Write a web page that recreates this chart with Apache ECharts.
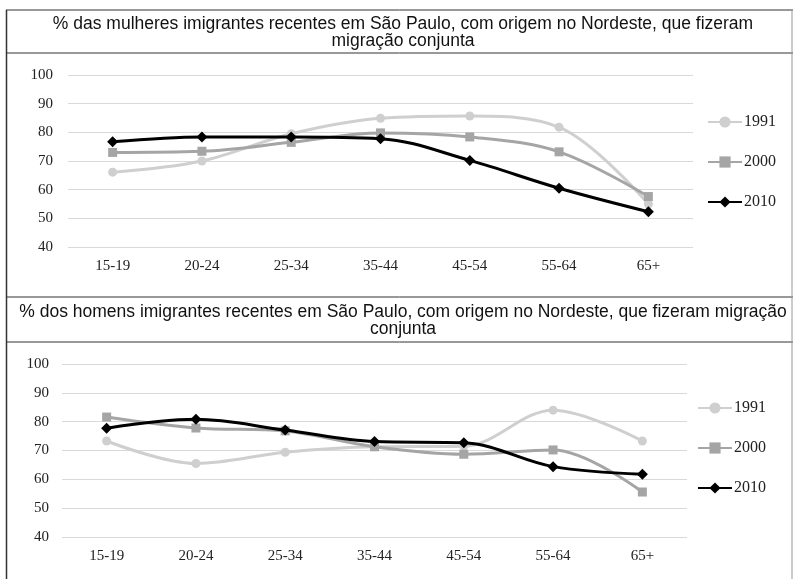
<!DOCTYPE html>
<html>
<head>
<meta charset="utf-8">
<script src="https://cdn.jsdelivr.net/npm/echarts@6/dist/echarts.min.js"></script>
<style>
    html, body { margin: 0; padding: 0; background: #fff; }
    #chart { width: 793px; height: 579px; }
</style>
</head>
<body>
<div id="chart"></div>
<script>
    // faixas etárias
    const categories = ['15-19', '20-24', '25-34', '35-44', '45-54', '55-64', '65+'];
    const seriesNames = ['1991', '2000', '2010'];

    // mulheres
    const women1991 = [66.1, 70.0, 79.5, 84.9, 85.7, 81.8, 55.0];
    const women2000 = [73.0, 73.4, 76.5, 79.8, 78.4, 73.2, 57.6];
    const women2010 = [76.7, 78.4, 78.4, 77.8, 70.2, 60.5, 52.3];

    // homens
    const men1991 = [73.3, 65.5, 69.4, 71.3, 71.5, 84.0, 73.3];
    const men2000 = [81.6, 77.8, 76.8, 71.3, 68.7, 70.2, 55.6];
    const men2010 = [77.7, 80.8, 77.1, 73.1, 72.7, 64.4, 61.8];

    const titleWomen = '% das mulheres imigrantes recentes em São Paulo, com origem no Nordeste, que fizeram\nmigração conjunta';
    const titleMen = '% dos homens imigrantes recentes em São Paulo, com origem no Nordeste, que fizeram migração\nconjunta';

    const colors = ['#cfcfcf', '#a5a5a5', '#000000'];
    const symbols = ['circle', 'rect', 'diamond'];
    const symbolSizes = [9, 9, 11];
    const serif = '"Liberation Serif", "Times New Roman", serif';
    const titleFont = '17.5px "Liberation Sans", Arial, sans-serif';

    const chart = echarts.init(document.getElementById('chart'));

    function makeSeries(idx, values) {
        let list = [];
        values.forEach((data, i) => {
            list.push({
                name: seriesNames[i],
                type: 'line',
                xAxisIndex: idx,
                yAxisIndex: idx,
                data: data,
                smooth: 0.35,
                symbol: symbols[i],
                symbolSize: symbolSizes[i],
                showAllSymbol: true,
                z: 2 + i,
                itemStyle: { color: colors[i] },
                lineStyle: { color: colors[i], width: 3 }
            });
        });
        return list;
    }

    function xAxisOf(idx) {
        return {
            type: 'category',
            gridIndex: idx,
            data: categories,
            boundaryGap: true,
            axisLine: { show: false },
            axisTick: { show: false },
            axisLabel: { color: '#222', fontFamily: serif, fontSize: 15, margin: 12 }
        };
    }

    function yAxisOf(idx, margin) {
        return {
            type: 'value',
            gridIndex: idx,
            min: 40,
            max: 100,
            interval: 10,
            axisLine: { show: false },
            axisTick: { show: false },
            splitLine: { lineStyle: { color: '#d9d9d9', width: 1 } },
            axisLabel: { color: '#222', fontFamily: serif, fontSize: 15, margin: margin }
        };
    }

    function legendOf(left, top) {
        return {
            data: seriesNames,
            orient: 'vertical',
            left: left,
            top: top,
            padding: 0,
            itemWidth: 34,
            itemHeight: 14,
            itemGap: 24,
            textStyle: { color: '#222', fontFamily: serif, fontSize: 16, padding: [0, 0, 0, -3] }
        };
    }

    let option = {
        animation: false,
        grid: [
            { left: 68, right: 100, top: 75, height: 172 },
            { left: 62, right: 106, top: 364, height: 173 }
        ],
        xAxis: [xAxisOf(0), xAxisOf(1)],
        yAxis: [yAxisOf(0, 15), yAxisOf(1, 13)],
        legend: [legendOf(707, 114), legendOf(697, 400)],
        series: makeSeries(0, [women1991, women2000, women2010]).concat(
            makeSeries(1, [men1991, men2000, men2010])
        ),
        graphic: [
            { type: 'line', shape: { x1: 6, y1: 10, x2: 793, y2: 10 }, style: { stroke: '#333', lineWidth: 1 } },
            { type: 'line', shape: { x1: 6, y1: 53, x2: 793, y2: 53 }, style: { stroke: '#333', lineWidth: 1 } },
            { type: 'line', shape: { x1: 6, y1: 297, x2: 793, y2: 297 }, style: { stroke: '#333', lineWidth: 1 } },
            { type: 'line', shape: { x1: 6, y1: 342, x2: 793, y2: 342 }, style: { stroke: '#333', lineWidth: 1 } },
            { type: 'line', shape: { x1: 6.5, y1: 10, x2: 6.5, y2: 579 }, style: { stroke: '#333', lineWidth: 1.5 } },
            { type: 'line', shape: { x1: 792, y1: 10, x2: 792, y2: 579 }, style: { stroke: '#999', lineWidth: 1 } },
            {
                type: 'text', x: 403, y: 16,
                style: { text: titleWomen, align: 'center', fill: '#111', font: titleFont, lineHeight: 17 }
            },
            {
                type: 'text', x: 403, y: 304,
                style: { text: titleMen, align: 'center', fill: '#111', font: titleFont, lineHeight: 17 }
            }
        ]
    };

    chart.setOption(option);
</script>
</body>
</html>
